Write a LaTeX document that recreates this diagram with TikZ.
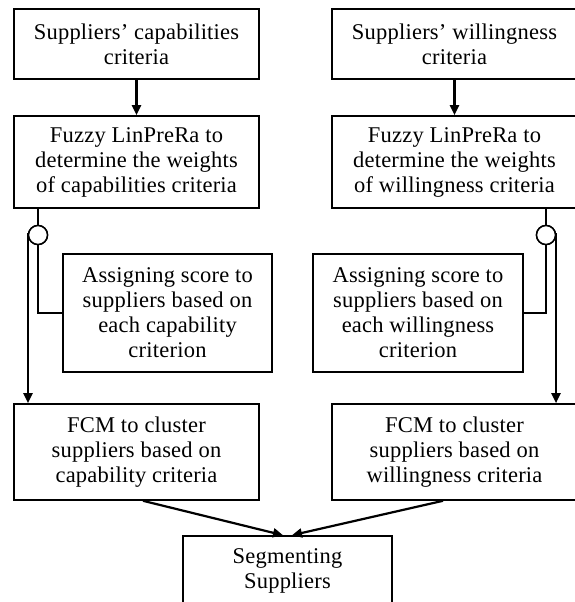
\documentclass[tikz,border=0pt]{standalone}
\usepackage{fontspec}
\setmainfont{Liberation Serif}[LetterSpace=1]
\usetikzlibrary{arrows.meta}
\begin{document}
\begin{tikzpicture}[x=1pt,y=-1pt,
  box/.style={draw,line width=1.6pt,rectangle,inner sep=0pt,align=center,
    font=\fontsize{22.5}{25}\selectfont},
  joint/.style={draw,line width=1.5pt,circle,minimum size=19pt,inner sep=0pt,fill=white},
  thin/.style={line width=1.6pt},
  flow/.style={line width=2.2pt,-{Triangle[length=10pt,width=9pt]}}]
\clip (0,0) rectangle (575,602);
\fill[white] (0,0) rectangle (575,602);
% left column
\node[box,minimum width=245pt,minimum height=70pt] (lt) at (136.5,44) {Suppliers' capabilities\\criteria};
\node[box,minimum width=245pt,minimum height=92pt] (lf) at (136.5,162) {Fuzzy LinPreRa to\\determine the weights\\of capabilities criteria};
\node[box,minimum width=209pt,minimum height=118pt] (la) at (167.5,313) {Assigning score to\\suppliers based on\\each capability\\criterion};
\node[box,minimum width=245pt,minimum height=96pt] (lc) at (136.5,452) {FCM to cluster\\suppliers based on\\capability criteria};
% right column
\node[box,minimum width=245pt,minimum height=70pt] (rt) at (454.5,44) {Suppliers' willingness\\criteria};
\node[box,minimum width=245pt,minimum height=92pt] (rf) at (454.5,162) {Fuzzy LinPreRa to\\determine the weights\\of willingness criteria};
\node[box,minimum width=210pt,minimum height=118pt] (ra) at (418,313) {Assigning score to\\suppliers based on\\each willingness\\criterion};
\node[box,minimum width=245pt,minimum height=96pt] (rc) at (454.5,452) {FCM to cluster\\suppliers based on\\willingness criteria};
% bottom
\node[box,minimum width=209pt,minimum height=70pt] (sg) at (287.5,571) {Segmenting\\Suppliers};
% joints
\node[joint] (lj) at (38,235) {};
\node[joint] (rj) at (546,235) {};
\coordinate (ljt) at (28,233);
\coordinate (rjt) at (556,233);
% connectors
\draw[flow] (lt) -- (lf);
\draw[flow] (rt) -- (rf);
\draw[thin] (lf.south -| lj) -- (lj.north);
\draw[thin] (lj.south) |- (la.west);
\draw[thin] (rf.south -| rj) -- (rj.north);
\draw[thin] (rj.south) |- (ra.east);
\draw[flow] (ljt) -- (ljt |- lc.north);
\draw[flow] (rjt) -- (rjt |- rc.north);
\node[joint] at (lj) {};
\node[joint] at (rj) {};
\draw[flow] ([xshift=6.5pt]lc.south) -- ([xshift=-4.5pt]sg.north);
\draw[flow] ([xshift=-11.5pt]rc.south) -- ([xshift=4.5pt]sg.north);
\end{tikzpicture}
\end{document}
